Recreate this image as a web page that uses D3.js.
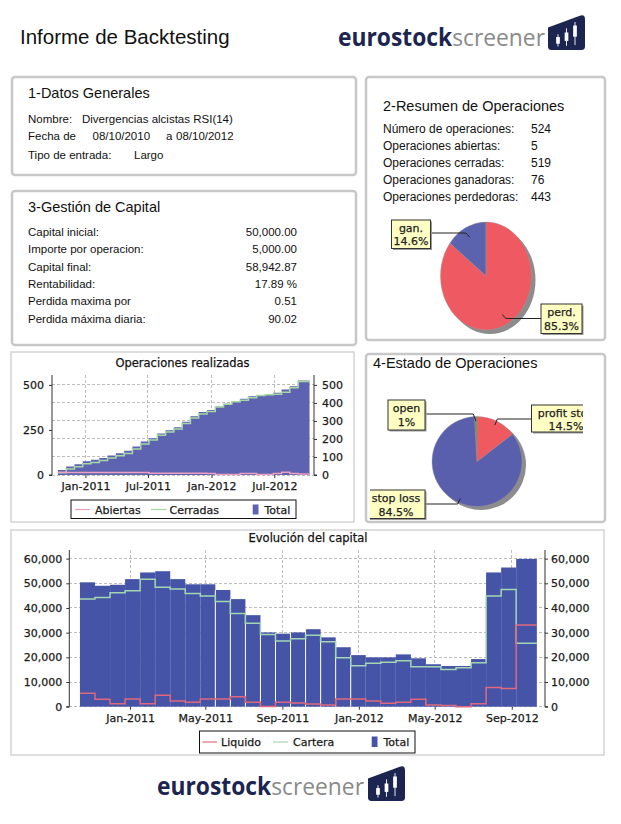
<!DOCTYPE html>
<html><head><meta charset="utf-8">
<script src="https://cdn.jsdelivr.net/npm/d3@7"></script>
<style>
html,body{margin:0;padding:0;background:#fff;}
svg{display:block;}
.ct{paint-order:stroke;stroke:#1a1a1a;stroke-width:0.25px;}
</style></head>
<body>
<svg id="c" width="621" height="824"></svg>
<script>
// ---------------- DATA ----------------
const periodDates = ["2010-10-13","2010-11-06","2010-11-30","2010-12-24","2011-01-17","2011-02-10","2011-03-06","2011-03-30","2011-04-23","2011-05-17","2011-06-10","2011-07-04","2011-07-28","2011-08-21","2011-09-14","2011-10-08","2011-11-01","2011-11-25","2011-12-19","2012-01-12","2012-02-05","2012-02-29","2012-03-24","2012-04-17","2012-05-11","2012-06-04","2012-06-28","2012-07-22","2012-08-15","2012-09-08","2012-10-11"];
const axisDomain = ["2010-09-26","2012-10-24"];

const opsTotal    = [28,47,60,77,84,94,108,121,134,158,186,204,231,249,265,296,326,349,361,380,395,410,423,437,444,449,456,474,492,524];
const opsCerradas = [13,33,46,63,70,80,94,107,120,144,172,194,221,239,255,286,316,339,352,377,392,407,415,429,441,446,448,459,484,519];
const opsAbiertas = [15,14,14,14,14,14,14,14,14,14,14,10,10,10,10,10,10,10,9,3,3,3,8,8,3,3,8,15,8,5];
const opsLeftTicks = [0,250,500];
const opsRightTicks = [0,100,200,300,400,500];
const opsDateTicks = ["2011-01-01","2011-07-01","2012-01-01","2012-07-01"];

const capTotal   = [50400,49000,49400,51700,54400,54900,51700,49600,49600,47300,43600,37100,30100,29600,30100,31400,28100,24100,20900,20000,20000,21200,19600,17200,16500,16500,19300,54400,56400,59900];
const capCartera = [43600,44300,46200,47000,51600,48400,47700,45900,44900,42600,37800,33800,29300,26600,27500,29000,26300,19800,16600,17600,18000,18600,16200,16200,15100,15800,17800,44900,47500,25700];
const capLiquido = [5400,3000,1200,3100,1200,4600,2300,1800,3100,3100,4000,1800,100,1800,1500,1100,700,3100,3100,2300,1400,1800,3000,700,500,0,1200,7800,7400,33100];
const capTicks = [0,10000,20000,30000,40000,50000,60000];
const capDateTicks = ["2011-01-01","2011-05-01","2011-09-01","2012-01-01","2012-05-01","2012-09-01"];

const datosLabels = ["Nombre:","Fecha de","Tipo de entrada:"];
const datosNombre = "Divergencias alcistas RSI(14)";
const datosFechas = ["08/10/2010","a","08/10/2012"];
const datosTipo = "Largo";

const resumenLabels = ["Número de operaciones:","Operaciones abiertas:","Operaciones cerradas:","Operaciones ganadoras:","Operaciones perdedoras:"];
const resumenValues = ["524","5","519","76","443"];

const gestionLabels = ["Capital inicial:","Importe por operacion:","Capital final:","Rentabilidad:","Perdida maxima por","Perdida máxima diaria:"];
const gestionValues = ["50,000.00","5,000.00","58,942.87","17.89 %","0.51","90.02"];

const pieResLabels = ["gan.","perd."];
const pieResValues = [76,443];
const pieResPct = ["14.6%","85.3%"];

const pieEstLabels = ["open","stop loss","profit stop"];
const pieEstValues = [5,443,76];
const pieEstPct = ["1%","84.5%","14.5%"];

// ---------------- DRAW ----------------
const svg = d3.select("#c");
const parse = d3.timeParse("%Y-%m-%d");
const dates = periodDates.map(parse);
const SANS = "'Liberation Sans', Arial, sans-serif";
const CH = "'DejaVu Sans', sans-serif";

// header
svg.append("text").attr("x",20).attr("y",44).attr("font-family",SANS).attr("font-size",20.5).attr("fill","#111").text("Informe de Backtesting");

function logo(x, base, iconX, iconY){
  const g = svg.append("g");
  const t = g.append("text").attr("x",x).attr("y",base).attr("font-family","'Open Sans', sans-serif")
    .attr("font-size",24.5).attr("textLength",207).attr("lengthAdjust","spacingAndGlyphs");
  t.append("tspan").attr("font-weight",700).attr("fill","#1c2550").text("eurostock");
  t.append("tspan").attr("font-weight",400).attr("fill","#8a8a8a").text("screener");
  const ic = g.append("g").attr("transform",`translate(${iconX},${iconY}) scale(37,35)`);
  ic.append("path").attr("d","M0,0.36 L0.86,0.02 Q1,-0.03 1,0.12 L1,0.9 Q1,1 0.9,1 L0.1,1 Q0,1 0,0.9 Z").attr("fill","#1c2550");
  const candles = [[0.27,0.55,0.9,0.63,0.82],[0.5,0.38,0.88,0.5,0.74],[0.73,0.2,0.86,0.3,0.62]];
  candles.forEach(c=>{
    ic.append("rect").attr("x",c[0]-0.012).attr("y",c[1]).attr("width",0.024).attr("height",c[2]-c[1]).attr("fill","#fff");
    ic.append("rect").attr("x",c[0]-0.05).attr("y",c[3]).attr("width",0.1).attr("height",c[4]-c[3]).attr("fill","#fff");
  });
}
logo(338, 46, 548, 15);
logo(157, 795, 368, 766);

// panels
function panel(x,y,w,h){
  svg.append("rect").attr("x",x).attr("y",y).attr("width",w).attr("height",h).attr("rx",3)
    .attr("fill","#fff").attr("stroke","#c8c8c8").attr("stroke-width",2.5);
}
panel(12,77,344,98);
panel(366,77,239,263);
panel(12,191,344,154);
panel(366,354,239,168);

// panel 1
svg.append("text").attr("x",28).attr("y",98).attr("font-family",SANS).attr("font-size",14.5).attr("fill","#111").text("1-Datos Generales");
const p1y = [123,140,159];
datosLabels.forEach((t,i)=>svg.append("text").attr("x",28).attr("y",p1y[i]).attr("font-family",SANS).attr("font-size",11.5).attr("fill","#111").text(t));
svg.append("text").attr("x",82).attr("y",p1y[0]).attr("font-family",SANS).attr("font-size",11.5).attr("fill","#111").text(datosNombre);
[92.5,166,176].forEach((x,i)=>svg.append("text").attr("x",x).attr("y",p1y[1]).attr("font-family",SANS).attr("font-size",11.5).attr("fill","#111").text(datosFechas[i]));
svg.append("text").attr("x",134).attr("y",p1y[2]).attr("font-family",SANS).attr("font-size",11.5).attr("fill","#111").text(datosTipo);

// panel 2
svg.append("text").attr("x",383).attr("y",111).attr("font-family",SANS).attr("font-size",14.5).attr("fill","#111").text("2-Resumen de Operaciones");
resumenLabels.forEach((t,i)=>{
  const y = 132.5 + i*17.2;
  svg.append("text").attr("x",383).attr("y",y).attr("font-family",SANS).attr("font-size",12).attr("fill","#111").text(t);
  svg.append("text").attr("x",531).attr("y",y).attr("font-family",SANS).attr("font-size",12).attr("fill","#111").text(resumenValues[i]);
});

// panel 3
svg.append("text").attr("x",28).attr("y",212).attr("font-family",SANS).attr("font-size",14.5).attr("fill","#111").text("3-Gestión de Capital");
gestionLabels.forEach((t,i)=>{
  const y = 236 + i*17.35;
  svg.append("text").attr("x",28).attr("y",y).attr("font-family",SANS).attr("font-size",11.5).attr("fill","#111").text(t);
  svg.append("text").attr("x",297).attr("y",y).attr("text-anchor","end").attr("font-family",SANS).attr("font-size",11.5).attr("fill","#111").text(gestionValues[i]);
});

// panel 4 title
svg.append("text").attr("x",373).attr("y",368).attr("font-family",SANS).attr("font-size",14.5).attr("fill","#111").text("4-Estado de Operaciones");

// label box helper
function labelBox(g, x0, x1, y0, y1, lines, cx, baselines){
  g.append("rect").attr("x",x0+1.5).attr("y",y0+1.5).attr("width",x1-x0).attr("height",y1-y0).attr("fill","#9a9a9a");
  g.append("rect").attr("x",x0).attr("y",y0).attr("width",x1-x0).attr("height",y1-y0).attr("fill","#ffffc4").attr("stroke","#333").attr("stroke-width",1);
  lines.forEach((t,i)=>g.append("text").attr("class","ct").attr("x",cx).attr("y",baselines[i]).attr("text-anchor","middle")
    .attr("font-family",CH).attr("font-size",11).attr("fill","#222").text(t));
}

// pie 1
(function(){
  const cx=486, cy=276, r=45.5, sy=54/45.5;
  const g = svg.append("g");
  const pie = d3.pie().sort(null).startAngle(0).endAngle(-2*Math.PI);
  const arcs = pie(pieResValues);
  const arc = d3.arc().innerRadius(0).outerRadius(r);
  const colors = ["#5b62ae","#ef5a62"];
  g.append("ellipse").attr("cx",cx+4).attr("cy",cy+4).attr("rx",r).attr("ry",r*sy).attr("fill","#8c8c8c");
  const pg = g.append("g").attr("transform",`translate(${cx},${cy}) scale(1,${sy})`);
  pg.selectAll("path").data(arcs).join("path").attr("d",arc).attr("fill",(d,i)=>colors[i]).attr("stroke","#999").attr("stroke-width",0.4);
  const anc = d3.arc().innerRadius(r*0.8).outerRadius(r*0.8);
  const boxes = [
    {x0:391.5,x1:430.5,y0:220,y1:248.5,ly:233,cx:411,bl:[232,245],side:-1},
    {x0:541,x1:582,y0:304,y1:333.5,ly:318.5,cx:561.5,bl:[316,329.5],side:1}
  ];
  arcs.forEach((a,i)=>{
    const c = anc.centroid(a); const ax = cx+c[0], ay = cy+c[1]*sy;
    const b = boxes[i];
    const elbowX = b.side<0 ? ax-4 : ax+4;
    const edge = b.side<0 ? b.x1 : b.x0;
    g.append("path").attr("d",`M${edge},${b.ly}L${elbowX},${b.ly}L${ax},${ay}`).attr("fill","none").attr("stroke","#222").attr("stroke-width",1);
    labelBox(g,b.x0,b.x1,b.y0,b.y1,[pieResLabels[i],pieResPct[i]],b.cx,b.bl);
  });
})();

// pie 2 (estado)
(function(){
  const cx=477, cy=461.5, r=45;
  svg.append("clipPath").attr("id","estclip").append("rect").attr("x",370).attr("y",372).attr("width",213).attr("height",148);
  const g = svg.append("g").attr("clip-path","url(#estclip)");
  const pie = d3.pie().sort(null).startAngle(0).endAngle(-2*Math.PI);
  const arcs = pie(pieEstValues);
  const arc = d3.arc().innerRadius(0).outerRadius(r);
  const colors = ["#5b8f63","#5a5fad","#ee5a60"];
  g.append("circle").attr("cx",cx+4).attr("cy",cy+3.5).attr("r",r).attr("fill","#8c8c8c");
  const pg = g.append("g").attr("transform",`translate(${cx},${cy})`);
  pg.selectAll("path").data(arcs).join("path").attr("d",arc).attr("fill",(d,i)=>colors[i]).attr("stroke","#999").attr("stroke-width",0.4);
  const anc = d3.arc().innerRadius(r*0.9).outerRadius(r*0.9);
  const boxes = [
    {x0:388,x1:425,y0:400,y1:430,ly:414,cx:406.5,bl:[412,425.5],side:-1},
    {x0:366,x1:425,y0:490,y1:518.5,ly:504,cx:396,bl:[502,515.5],side:-1},
    {x0:531.5,x1:600,y0:405,y1:432,ly:419,cx:566,bl:[417,430],side:1}
  ];
  arcs.forEach((a,i)=>{
    const c = anc.centroid(a); const ax = cx+c[0], ay = cy+c[1];
    const b = boxes[i];
    const elbowX = b.side<0 ? ax-2.5 : ax+2.5;
    const edge = b.side<0 ? b.x1 : b.x0;
    g.append("path").attr("d",`M${edge},${b.ly}L${elbowX},${b.ly}L${ax},${ay}`).attr("fill","none").attr("stroke","#222").attr("stroke-width",1);
    labelBox(g,b.x0,b.x1,b.y0,b.y1,[pieEstLabels[i],pieEstPct[i]],b.cx,b.bl);
  });
})();

function stepData(vals){
  const pts = vals.map((v,i)=>({d:dates[i], v}));
  pts.push({d:dates[vals.length], v:vals[vals.length-1]});
  return pts;
}
function styleAxis(sel){
  sel.selectAll("text").attr("class","ct").attr("font-family",CH).attr("font-size",11).attr("fill","#1a1a1a");
  sel.selectAll("line").attr("stroke","#333");
  sel.selectAll(".domain").attr("stroke","#333");
}
function legendText(g,x,y,t){
  g.append("text").attr("class","ct").attr("x",x).attr("y",y).attr("font-family",CH).attr("font-size",11).attr("fill","#1a1a1a").text(t);
}

// ---------- Ops chart ----------
(function(){
  svg.append("rect").attr("x",11).attr("y",352).attr("width",343).attr("height",170).attr("fill","#fff").attr("stroke","#d4d4d4").attr("stroke-width",1.5);
  const L=52, R=314, T=375, B=475;
  const x = d3.scaleTime().domain(axisDomain.map(parse)).range([L,R]);
  const y = d3.scaleLinear().domain([0,555]).range([B,T]);
  const g = svg.append("g");
  svg.append("text").attr("class","ct").attr("x",182.5).attr("y",367).attr("text-anchor","middle").attr("font-family",CH).attr("font-size",11.5).attr("fill","#111").text("Operaciones realizadas");
  g.selectAll(".hg").data(opsRightTicks).join("line").attr("x1",L).attr("x2",R).attr("y1",d=>y(d)).attr("y2",d=>y(d))
    .attr("stroke","#bdbdbd").attr("stroke-dasharray","3,2").attr("shape-rendering","crispEdges");
  g.selectAll(".vg").data(opsDateTicks.map(parse)).join("line").attr("x1",d=>x(d)).attr("x2",d=>x(d)).attr("y1",T).attr("y2",B)
    .attr("stroke","#bdbdbd").attr("stroke-dasharray","3,2").attr("shape-rendering","crispEdges");
  const area = d3.area().curve(d3.curveStepAfter).x(d=>x(d.d)).y0(y(0)).y1(d=>y(d.v));
  g.append("path").attr("d",area(stepData(opsTotal))).attr("fill","#5d63b0");
  const line = d3.line().curve(d3.curveStepAfter).x(d=>x(d.d)).y(d=>y(d.v));
  g.append("path").attr("d",line(stepData(opsCerradas))).attr("fill","none").attr("stroke","#a6d8a6").attr("stroke-width",1.5);
  g.append("path").attr("d",line(stepData(opsAbiertas))).attr("fill","none").attr("stroke","#eaa0c0").attr("stroke-width",1.5);
  const ax1 = svg.append("g").attr("transform",`translate(${L},0)`).call(d3.axisLeft(y).tickValues(opsLeftTicks).tickSize(3).tickPadding(5));
  const ax2 = svg.append("g").attr("transform",`translate(${R},0)`).call(d3.axisRight(y).tickValues(opsRightTicks).tickSize(3).tickPadding(5));
  const ax3 = svg.append("g").attr("transform",`translate(0,${B})`).call(d3.axisBottom(x).tickValues(opsDateTicks.map(parse)).tickFormat(d3.timeFormat("%b-%Y")).tickSize(3).tickPadding(4));
  [ax1,ax2,ax3].forEach(styleAxis);
  ax1.select(".domain").attr("d",`M-3,${B}H0V${T}`);
  ax2.select(".domain").attr("d",`M3,${B}H0V${T}`);
  ax3.select(".domain").remove();
  const lg = svg.append("g");
  lg.append("rect").attr("x",71).attr("y",500).attr("width",225).attr("height",18.5).attr("fill","#fff").attr("stroke","#111");
  lg.append("line").attr("x1",75).attr("x2",90).attr("y1",509.5).attr("y2",509.5).attr("stroke","#eaa0c0").attr("stroke-width",1.2);
  legendText(lg,95,513.5,"Abiertas");
  lg.append("line").attr("x1",151).attr("x2",166.5).attr("y1",509.5).attr("y2",509.5).attr("stroke","#a6d8a6").attr("stroke-width",1.2);
  legendText(lg,169.5,513.5,"Cerradas");
  lg.append("rect").attr("x",252.7).attr("y",504.5).attr("width",5.8).attr("height",10).attr("fill","#5d63b0");
  legendText(lg,264.5,513.5,"Total");
})();

// ---------- Capital chart ----------
(function(){
  svg.append("rect").attr("x",11).attr("y",530).attr("width",593).attr("height",225).attr("fill","#fff").attr("stroke","#d4d4d4").attr("stroke-width",1.5);
  const L=69.3, R=545, T=550, B=706.7;
  const x = d3.scaleTime().domain(axisDomain.map(parse)).range([L,R]);
  const y = d3.scaleLinear().domain([0,63500]).range([B,T]);
  const g = svg.append("g");
  svg.append("text").attr("class","ct").attr("x",308).attr("y",542).attr("text-anchor","middle").attr("font-family",CH).attr("font-size",11.5).attr("fill","#111").text("Evolución del capital");
  g.selectAll(".hg").data(capTicks).join("line").attr("x1",L).attr("x2",R).attr("y1",d=>y(d)).attr("y2",d=>y(d))
    .attr("stroke","#bdbdbd").attr("stroke-dasharray","3,2").attr("shape-rendering","crispEdges");
  g.selectAll(".vg").data(capDateTicks.map(parse)).join("line").attr("x1",d=>x(d)).attr("x2",d=>x(d)).attr("y1",T).attr("y2",B)
    .attr("stroke","#bdbdbd").attr("stroke-dasharray","3,2").attr("shape-rendering","crispEdges");
  g.selectAll(".bar").data(capTotal).join("rect")
    .attr("x",(d,i)=>x(dates[i])).attr("width",(d,i)=>x(dates[i+1])-x(dates[i]))
    .attr("y",d=>y(d)).attr("height",d=>y(0)-y(d)).attr("fill","#4554a6");
  g.selectAll(".gap").data(capTotal.map((d,i)=>i).filter(i=>i>=9&&i<=18)).join("line")
    .attr("x1",i=>x(dates[i])).attr("x2",i=>x(dates[i]))
    .attr("y1",i=>y(capTotal[i])).attr("y2",y(0)).attr("stroke","#fff").attr("stroke-width",1);
  const line = d3.line().curve(d3.curveStepAfter).x(d=>x(d.d)).y(d=>y(d.v));
  g.append("path").attr("d",line(stepData(capCartera))).attr("fill","none").attr("stroke","#a4d6b4").attr("stroke-width",1.5);
  g.append("path").attr("d",line(stepData(capLiquido))).attr("fill","none").attr("stroke","#e0687e").attr("stroke-width",1.5);
  const fmt = d3.format(",");
  const ax1 = svg.append("g").attr("transform",`translate(${L},0)`).call(d3.axisLeft(y).tickValues(capTicks).tickFormat(fmt).tickSize(3).tickPadding(4));
  const ax2 = svg.append("g").attr("transform",`translate(${R},0)`).call(d3.axisRight(y).tickValues(capTicks).tickFormat(fmt).tickSize(3).tickPadding(3));
  const ax3 = svg.append("g").attr("transform",`translate(0,${B})`).call(d3.axisBottom(x).tickValues(capDateTicks.map(parse)).tickFormat(d3.timeFormat("%b-%Y")).tickSize(3).tickPadding(4.5));
  [ax1,ax2,ax3].forEach(styleAxis);
  ax1.select(".domain").attr("d",`M-3,${B}H0V${T}`);
  ax2.select(".domain").attr("d",`M3,${B}H0V${T}`);
  ax3.select(".domain").remove();
  const lg = svg.append("g");
  lg.append("rect").attr("x",199.5).attr("y",731).attr("width",215.5).attr("height",22).attr("fill","#fff").attr("stroke","#111");
  lg.append("line").attr("x1",202.5).attr("x2",217).attr("y1",742).attr("y2",742).attr("stroke","#e0687e").attr("stroke-width",1.2);
  legendText(lg,221,746,"Liquido");
  lg.append("line").attr("x1",273).attr("x2",288).attr("y1",742).attr("y2",742).attr("stroke","#a4d6b4").attr("stroke-width",1.2);
  legendText(lg,293,746,"Cartera");
  lg.append("rect").attr("x",371.7).attr("y",736.5).attr("width",5.8).attr("height",10.5).attr("fill","#4554a6");
  legendText(lg,383.5,746,"Total");
})();
</script>
</body></html>
